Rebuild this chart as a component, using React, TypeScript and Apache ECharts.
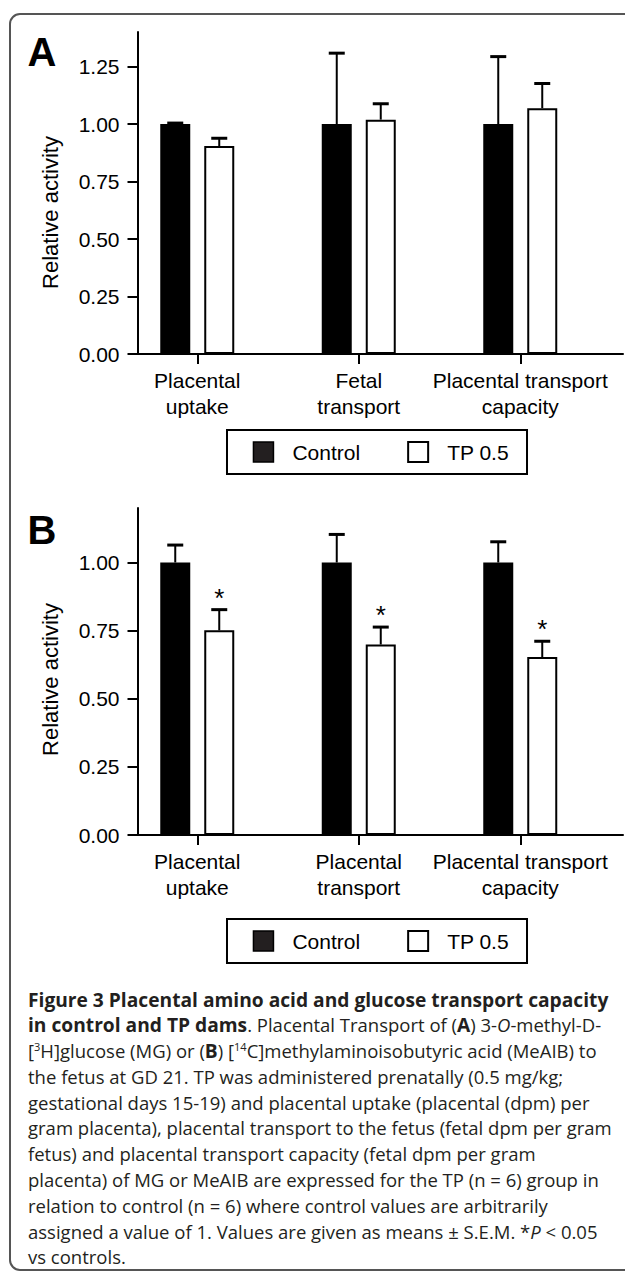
import React, { useEffect, useRef } from 'react';
import * as echarts from 'echarts';

// ---------- data ----------
const categoriesA = ['Placental\nuptake', 'Fetal\ntransport', 'Placental transport\ncapacity'];
const categoriesB = ['Placental\nuptake', 'Placental\ntransport', 'Placental transport\ncapacity'];
const seriesNames = ['Control', 'TP 0.5'];
const controlA = [1.0, 1.0, 1.0];
const controlErrA = [0.004, 0.308, 0.293];
const tpA = [0.904, 1.019, 1.069];
const tpErrA = [0.034, 0.069, 0.107];
const controlB = [1.0, 1.0, 1.0];
const controlErrB = [0.064, 0.103, 0.076];
const tpB = [0.751, 0.699, 0.653];
const tpErrB = [0.076, 0.064, 0.058];
const sigA = [false, false, false];
const sigB = [true, true, true];
const yTicksA = [0, 0.25, 0.5, 0.75, 1.0, 1.25];
const yTicksB = [0, 0.25, 0.5, 0.75, 1.0];
const yMaxA = 1.4;
const yMaxB = 1.2;
const panelLabels = ['A', 'B'];
const yAxisTitle = 'Relative activity';
const captionLines = [
  '{b|Figure 3 Placental amino acid and glucose transport capacity}',
  '{b|in control and TP dams}. Placental Transport of ({b|A}) 3-{i|O}-methyl-D-',
  '[{sup|3}H]glucose (MG) or ({b|B}) [{sup|14}C]methylaminoisobutyric acid (MeAIB) to',
  'the fetus at GD 21. TP was administered prenatally (0.5 mg/kg;',
  'gestational days 15-19) and placental uptake (placental (dpm) per',
  'gram placenta), placental transport to the fetus (fetal dpm per gram',
  'fetus) and placental transport capacity (fetal dpm per gram',
  'placenta) of MG or MeAIB are expressed for the TP (n = 6) group in',
  'relation to control (n = 6) where control values are arbitrarily',
  'assigned a value of 1. Values are given as means \u00b1 S.E.M. *{i|P} < 0.05',
  'vs controls.',
];

// ---------- layout / style ----------
const FONT = '"Liberation Sans", Arial, Helvetica, sans-serif';
const CAP_FONT = '"Open Sans", "Noto Sans", sans-serif';
const CAP_SIZE = 18.5;
const CAP_BOLD_SIZE = 19.2;
const BAR_W = 30;
const BAR_GAP = 14;
const BAR_OFFSET = (BAR_W + BAR_GAP) / 2;
const CAP_W = 16;
const panels = [
  { top: 32, bottom: 354, legendTop: 430, titleY: 212.5, letterY: 52 },
  { top: 508, bottom: 835, legendTop: 919, titleY: 679.5, letterY: 530 },
];
const BAR_LEFT = 116.5;
const BAR_WIDTH_TOTAL = 484.5;
const AXIS_LEFT = 137.5;
const AXIS_RIGHT_END = 623;

function errRender(sign: number) {
  return (params: any, api: any) => {
    const idx = api.value(0);
    const mean = api.value(1);
    const err = api.value(2);
    const sig = api.value(3);
    const base = api.coord([idx, mean]);
    const top = api.coord([idx, mean + err]);
    const x = base[0] + sign * BAR_OFFSET;
    const children: any[] = [
      { type: 'line', shape: { x1: x, y1: base[1], x2: x, y2: top[1] }, style: { stroke: '#000', lineWidth: 2 } },
      { type: 'line', shape: { x1: x - CAP_W / 2, y1: top[1], x2: x + CAP_W / 2, y2: top[1] }, style: { stroke: '#000', lineWidth: 3 } },
    ];
    if (sig) {
      children.push({
        type: 'text',
        style: { text: '*', x, y: top[1] - 12, fontSize: 26, fontFamily: FONT, fill: '#000', align: 'center', verticalAlign: 'middle' },
      });
    }
    return { type: 'group', children };
  };
}

export default function App() {
  const ref = useRef<HTMLDivElement>(null);
  useEffect(() => {
    document.body.style.margin = '0';
    if (!ref.current) return;
    const chart = echarts.init(ref.current, undefined, { renderer: 'svg' });

    const datasets = [
      { cats: categoriesA, ctrl: controlA, ctrlErr: controlErrA, tp: tpA, tpErr: tpErrA, sig: sigA, ticks: yTicksA, max: yMaxA },
      { cats: categoriesB, ctrl: controlB, ctrlErr: controlErrB, tp: tpB, tpErr: tpErrB, sig: sigB, ticks: yTicksB, max: yMaxB },
    ];

    const grid: any[] = [];
    const xAxis: any[] = [];
    const yAxis: any[] = [];
    const series: any[] = [];
    const legend: any[] = [];
    const graphic: any[] = [
      {
        type: 'rect',
        shape: { x: 10, y: 14, width: 660, height: 1256, r: 10 },
        style: { fill: 'none', stroke: '#555', lineWidth: 2 },
        silent: true,
      },
    ];

    datasets.forEach((d, p) => {
      const pan = panels[p];
      const h = pan.bottom - pan.top;
      const gBar = grid.length;
      grid.push({ left: BAR_LEFT, top: pan.top, width: BAR_WIDTH_TOTAL, height: h });
      const gAx = grid.length;
      grid.push({ left: AXIS_LEFT, top: pan.top, width: AXIS_RIGHT_END - AXIS_LEFT, height: h });

      const xi = xAxis.length;
      xAxis.push({
        type: 'category',
        gridIndex: gBar,
        data: d.cats,
        axisLine: { show: false },
        axisTick: { show: true, alignWithLabel: true, length: 10, lineStyle: { color: '#000', width: 2 } },
        axisLabel: { interval: 0, margin: 13, fontSize: 21, lineHeight: 26, color: '#000', fontFamily: FONT },
      });
      xAxis.push({
        type: 'value',
        gridIndex: gAx,
        min: 0,
        max: 1,
        axisLine: { show: true, lineStyle: { color: '#000', width: 2 } },
        axisTick: { show: false },
        axisLabel: { show: false },
        splitLine: { show: false },
      });
      const yi = yAxis.length;
      yAxis.push({ type: 'value', gridIndex: gBar, min: 0, max: d.max, show: false, splitLine: { show: false } });
      yAxis.push({
        type: 'value',
        gridIndex: gAx,
        min: 0,
        max: d.max,
        axisLine: { show: true, lineStyle: { color: '#000', width: 2 } },
        axisTick: { show: true, length: 10, customValues: d.ticks, lineStyle: { color: '#000', width: 2 } },
        axisLabel: {
          customValues: d.ticks,
          formatter: (v: number) => v.toFixed(2),
          margin: 18,
          fontSize: 21,
          color: '#000',
          fontFamily: FONT,
        },
        splitLine: { show: false },
      });

      series.push({
        type: 'bar',
        name: seriesNames[0],
        xAxisIndex: xi,
        yAxisIndex: yi,
        data: d.ctrl,
        barWidth: BAR_W,
        barGap: `${(BAR_GAP / BAR_W) * 100}%`,
        itemStyle: { color: '#000' },
        z: 2,
      });
      series.push({
        type: 'bar',
        name: seriesNames[1],
        xAxisIndex: xi,
        yAxisIndex: yi,
        data: d.tp,
        barWidth: BAR_W,
        barGap: `${(BAR_GAP / BAR_W) * 100}%`,
        itemStyle: { color: '#fff', borderColor: '#000', borderWidth: 2 },
        z: 2,
      });
      series.push({
        type: 'custom',
        name: `err-ctrl-${p}`,
        xAxisIndex: xi,
        yAxisIndex: yi,
        renderItem: errRender(-1),
        encode: { x: 0, y: 1 },
        data: d.ctrl.map((v, i) => [i, v, d.ctrlErr[i], 0]),
        z: 3,
      });
      series.push({
        type: 'custom',
        name: `err-tp-${p}`,
        xAxisIndex: xi,
        yAxisIndex: yi,
        renderItem: errRender(1),
        encode: { x: 0, y: 1 },
        data: d.tp.map((v, i) => [i, v, d.tpErr[i], d.sig[i] ? 1 : 0]),
        z: 3,
      });

      legend.push({
        left: 227,
        top: pan.legendTop,
        orient: 'horizontal',
        itemWidth: 20,
        itemHeight: 20,
        itemGap: 47,
        padding: [11, 18, 11, 25.7],
        borderColor: '#000',
        borderWidth: 2,
        selectedMode: false,
        textStyle: { fontSize: 21, color: '#000', fontFamily: FONT, padding: [0, 0, 0, 14] },
        data: [
          { name: seriesNames[0], icon: 'rect', itemStyle: { color: '#231f20', borderColor: '#000', borderWidth: 1.5 } },
          { name: seriesNames[1], icon: 'rect', itemStyle: { color: '#fff', borderColor: '#000', borderWidth: 2 } },
        ],
      });

      graphic.push({
        type: 'text',
        x: 42,
        y: pan.letterY,
        style: { text: panelLabels[p], fontSize: 40, fontWeight: 'bold', fontFamily: FONT, fill: '#000', align: 'center', verticalAlign: 'middle' },
      });
      graphic.push({
        type: 'text',
        x: 50,
        y: pan.titleY,
        rotation: Math.PI / 2,
        style: { text: yAxisTitle, fontSize: 22, fontFamily: FONT, fill: '#000', align: 'center', verticalAlign: 'middle' },
      });
    });

    const LH = 25.8;
    graphic.push({
      type: 'text',
      x: 28,
      y: 999 - LH / 2,
      style: {
        text: captionLines.join('\n'),
        fontSize: CAP_SIZE,
        fontFamily: CAP_FONT,
        fill: '#231f20',
        lineHeight: LH,
        align: 'left',
        verticalAlign: 'top',
        rich: {
          b: { fontWeight: 'bold', fontSize: CAP_BOLD_SIZE, fontFamily: CAP_FONT, lineHeight: LH, fill: '#231f20' },
          i: { fontStyle: 'italic', fontSize: CAP_SIZE, fontFamily: CAP_FONT, lineHeight: LH, fill: '#231f20' },
          sup: { fontSize: 11, fontFamily: CAP_FONT, lineHeight: 11, padding: [0, 0, 9, 0], fill: '#231f20' },
        },
      },
    });

    chart.setOption({
      animation: false,
      backgroundColor: '#fff',
      grid,
      xAxis,
      yAxis,
      series,
      legend,
      graphic,
    });
    return () => chart.dispose();
  }, []);
  return <div ref={ref} style={{ width: 625, height: 1272 }} />;
}
